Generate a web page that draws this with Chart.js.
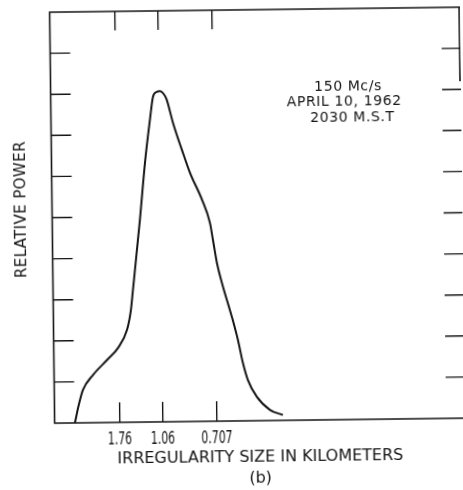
<!DOCTYPE html>
<html>
<head>
<meta charset="utf-8">
<script src="https://cdn.jsdelivr.net/npm/chart.js@4"></script>
<style>
  html, body { margin: 0; padding: 0; background: #fff; overflow: hidden; }
  #wrap { width: 463px; height: 490px; }
  /* the scanned figure is slightly tilted */
  #plot { transform: rotate(-0.7deg); transform-origin: 50% 50%; }
</style>
</head>
<body>
<div id="wrap"><canvas id="plot" width="463" height="490"></canvas></div>
<script>
// x is wavenumber (1 / irregularity size, km^-1), y relative power
const wavenumber = [0.177, 0.208, 0.250, 0.339, 0.463, 0.560, 0.641, 0.677, 0.697, 0.765,
  0.815, 0.863, 0.892, 0.925, 0.954, 0.985, 1.010, 1.064, 1.139, 1.207, 1.309, 1.376,
  1.400, 1.432, 1.474, 1.557, 1.607, 1.648, 1.690, 1.766, 1.879, 1.991];
const relPower = [0.00, 0.39, 0.80, 1.16, 1.52, 1.81, 2.25, 2.73, 3.22, 4.92,
  6.30, 7.35, 7.91, 8.03, 8.05, 7.98, 7.85, 7.27, 6.61, 6.05, 5.39, 4.82,
  4.41, 3.85, 3.36, 2.53, 1.97, 1.41, 0.99, 0.58, 0.26, 0.13];
const sizeTicks = ['1.76', '1.06', '0.707'];   // km
const powerTicks = [1, 2, 3, 4, 5, 6, 7, 8, 9];
const infoLines = ['150 Mc/s', 'APRIL 10, 1962', '2030 M.S.T'];

const ink = '#151515';
const mainFont = "'DejaVu Sans', sans-serif";

const framePlugin = {
  id: 'frame',
  afterDraw(chart) {
    const { ctx, chartArea: a, scales: { x, y } } = chart;
    ctx.save();
    ctx.strokeStyle = ink;
    ctx.lineWidth = 1.6;
    ctx.beginPath();
    ctx.moveTo(a.right, a.top); ctx.lineTo(a.left, a.top);
    ctx.lineTo(a.left, a.bottom); ctx.lineTo(a.right, a.bottom);
    ctx.moveTo(a.right - 1, a.top); ctx.lineTo(a.right - 1, y.getPixelForValue(8.2));
    ctx.stroke();

    // inward ticks
    ctx.lineWidth = 1.4;
    ctx.beginPath();
    powerTicks.forEach(v => {
      const py = y.getPixelForValue(v);
      ctx.moveTo(a.left, py); ctx.lineTo(a.left + 20, py);
      ctx.moveTo(a.right - 19, py); ctx.lineTo(a.right, py);
    });
    x.ticks.forEach(t => {
      const px = x.getPixelForValue(t.value);
      ctx.moveTo(px, a.bottom); ctx.lineTo(px, a.bottom - 20);
      ctx.moveTo(px, a.top); ctx.lineTo(px, a.top + 19);
    });
    ctx.stroke();

    ctx.fillStyle = ink;
    ctx.textAlign = 'center';
    ctx.textBaseline = 'middle';

    // tick labels, tall and narrow like the lettering guide
    ctx.font = '17px ' + mainFont;
    x.ticks.forEach((t, i) => {
      ctx.save();
      ctx.translate(x.getPixelForValue(t.value), a.bottom + 18);
      ctx.scale(0.64, 1);
      ctx.fillText(sizeTicks[i], 0, 0);
      ctx.restore();
    });

    // annotation block
    ctx.font = '14px ' + mainFont;
    ctx.letterSpacing = '0.6px';
    const cx = [350, 346, 354];
    infoLines.forEach((s, i) => ctx.fillText(s, cx[i], 88 + i * 15.5));

    // y title
    ctx.letterSpacing = '0.4px';
    ctx.font = '15px ' + mainFont;
    ctx.translate(22.5, 207);
    ctx.rotate(-Math.PI / 2);
    ctx.fillText('RELATIVE POWER', 0, 0);
    ctx.restore();
  }
};

new Chart(document.getElementById('plot'), {
  type: 'line',
  data: {
    datasets: [{
      data: wavenumber.map((w, i) => ({ x: w, y: relPower[i] })),
      borderColor: ink,
      borderWidth: 2,
      pointRadius: 0,
      fill: false,
      cubicInterpolationMode: 'monotone'
    }]
  },
  options: {
    responsive: false,
    animation: false,
    devicePixelRatio: 1,
    layout: { padding: { top: 10, right: 0, left: 0, bottom: 0 } },
    plugins: { legend: { display: false }, tooltip: { enabled: false } },
    scales: {
      x: {
        type: 'linear',
        min: 0,
        max: 3.58,
        grid: { display: false, drawTicks: false },
        border: { display: false },
        afterBuildTicks: s => { s.ticks = sizeTicks.map(t => ({ value: 1 / parseFloat(t) })); },
        afterFit: s => { s.height = 69; },
        ticks: { display: false },
        title: {
          display: true,
          text: ['IRREGULARITY SIZE IN KILOMETERS', '(b)'],
          color: ink,
          font: { family: mainFont, size: 16, lineHeight: 1.3 },
          padding: { top: 0, bottom: 1 }
        }
      },
      y: {
        min: 0,
        max: 10,
        grid: { display: false, drawTicks: false },
        border: { display: false },
        ticks: { display: false },
        afterFit: s => { s.width = 52.5; }
      }
    }
  },
  plugins: [framePlugin]
});
</script>
</body>
</html>
